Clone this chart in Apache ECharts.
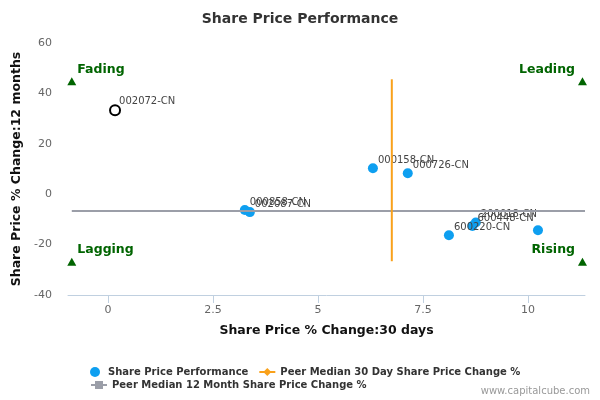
<!DOCTYPE html>
<html>
<head>
<meta charset="utf-8">
<script src="https://cdn.jsdelivr.net/npm/echarts@6/dist/echarts.min.js"></script>
<style>
html, body { margin: 0; padding: 0; background: #fff; }
#main { width: 600px; height: 400px; }
</style>
</head>
<body>
<div id="main"></div>
<script>
// peers: 30 day change (x) / 12 month change (y)
var peerNames = ['000858-CN', '002087-CN', '000158-CN', '000726-CN', '600220-CN', '600448-CN', '200018-CN', ''];
var peer30d = [3.26, 3.38, 6.31, 7.14, 8.12, 8.68, 8.76, 10.24];
var peer12m = [-6.3, -7.1, 10.3, 8.3, -16.3, -12.6, -11.2, -14.3];

// the company itself
var selfName = '002072-CN';
var self30d = 0.17;
var self12m = 33.3;

// peer medians
var median30d = 6.76;
var median12m = -6.7;
var medianLineX = [-0.86, 11.36];
var medianLineY = [-26.6, 45.6];

// quadrant corners
var quadNames = ['Fading', 'Leading', 'Lagging', 'Rising'];
var quad30d = [-0.86, 11.3, -0.86, 11.3];
var quad12m = [44.8, 44.8, -26.8, -26.8];

var xTicks = [0, 2.5, 5, 7.5, 10];

var peerData = [];
for (var i = 0; i < peerNames.length; i++) {
	peerData.push({ name: peerNames[i], value: [peer30d[i], peer12m[i]] });
}
var quadData = [];
for (var j = 0; j < quadNames.length; j++) {
	var right = j % 2 == 1;
	quadData.push({
		name: quadNames[j],
		value: [quad30d[j], quad12m[j]],
		label: right ? { position: [-3, -14], align: 'right' } : { position: [10, -14], align: 'left' }
	});
}

var chart = echarts.init(document.getElementById('main'));
var option = {
	animation: false,
	textStyle: { fontFamily: 'DejaVu Sans' },
	title: {
		text: 'Share Price Performance',
		left: 'center',
		top: 7,
		textStyle: { fontSize: 14, fontWeight: 'bold', color: '#333' }
	},
	grid: { left: 68, right: 15, top: 43, bottom: 105 },
	legend: [
		{
			left: 85, top: 362, itemGap: 10, itemWidth: 16, itemHeight: 10,
			textStyle: { fontSize: 10, fontWeight: 'bold', color: '#333' },
			data: ['Share Price Performance', 'Peer Median 30 Day Share Price Change %']
		},
		{
			left: 85, top: 375, itemWidth: 16, itemHeight: 10,
			textStyle: { fontSize: 10, fontWeight: 'bold', color: '#333' },
			data: ['Peer Median 12 Month Share Price Change %']
		}
	],
	xAxis: {
		type: 'value',
		min: -0.95,
		max: 11.36,
		name: 'Share Price % Change:30 days',
		nameLocation: 'middle',
		nameGap: 29,
		nameTextStyle: { fontSize: 12.5, fontWeight: 'bold', color: '#111' },
		axisLine: { show: true, onZero: false, lineStyle: { color: '#c0d0e0' } },
		axisTick: { show: true, customValues: xTicks, length: 8, inside: false, lineStyle: { color: '#c0d0e0' } },
		axisLabel: { customValues: xTicks, color: '#666', fontSize: 11, margin: 10 },
		splitLine: { show: false }
	},
	yAxis: {
		type: 'value',
		min: -40,
		max: 60,
		interval: 20,
		name: 'Share Price % Change:12 months',
		nameLocation: 'middle',
		nameGap: 41,
		nameTextStyle: { fontSize: 12.5, fontWeight: 'bold', color: '#111' },
		axisLine: { show: false },
		axisTick: { show: false },
		axisLabel: { color: '#666', fontSize: 11, margin: 16 },
		splitLine: { show: false }
	},
	series: [
		{
			name: 'Peer Median 12 Month Share Price Change %',
			type: 'line',
			data: [[medianLineX[0], median12m], [medianLineX[1], median12m]],
			symbol: 'rect',
			symbolSize: 9,
			showSymbol: false,
			itemStyle: { color: '#9b9ea8' },
			lineStyle: { color: '#9b9ea8', width: 2 },
			silent: true
		},
		{
			name: 'Peer Median 30 Day Share Price Change %',
			type: 'line',
			data: [[median30d, medianLineY[0]], [median30d, medianLineY[1]]],
			symbol: 'diamond',
			symbolSize: 11,
			showSymbol: false,
			itemStyle: { color: '#f9a11b' },
			lineStyle: { color: '#f9a11b', width: 2 },
			silent: true
		},
		{
			name: 'Share Price Performance',
			type: 'scatter',
			data: peerData,
			symbol: 'circle',
			symbolSize: 10,
			itemStyle: { color: '#0e9ff0', opacity: 1 },
			label: {
				show: true,
				formatter: '{b}',
				position: [10, -8],
				align: 'left',
				color: '#444',
				fontSize: 10
			}
		},
		{
			name: selfName,
			type: 'scatter',
			data: [{ name: selfName, value: [self30d, self12m] }],
			symbol: 'emptyCircle',
			symbolSize: 10,
			itemStyle: { color: '#000', borderColor: '#000', borderWidth: 2, opacity: 1 },
			label: {
				show: true,
				formatter: '{b}',
				position: [10, -8],
				align: 'left',
				color: '#444',
				fontSize: 10
			}
		},
		{
			name: 'quadrants',
			type: 'scatter',
			data: quadData,
			symbol: 'triangle',
			symbolSize: [9, 8],
			itemStyle: { color: '#006400', opacity: 1 },
			label: {
				show: true,
				formatter: '{b}',
				color: '#006400',
				fontSize: 12.5,
				fontWeight: 'bold'
			}
		}
	],
	graphic: [
		{
			type: 'text',
			right: 10,
			bottom: 4,
			style: { text: 'www.capitalcube.com', fill: '#999', fontSize: 10, fontFamily: 'DejaVu Sans' }
		}
	]
};
chart.setOption(option);
</script>
</body>
</html>
